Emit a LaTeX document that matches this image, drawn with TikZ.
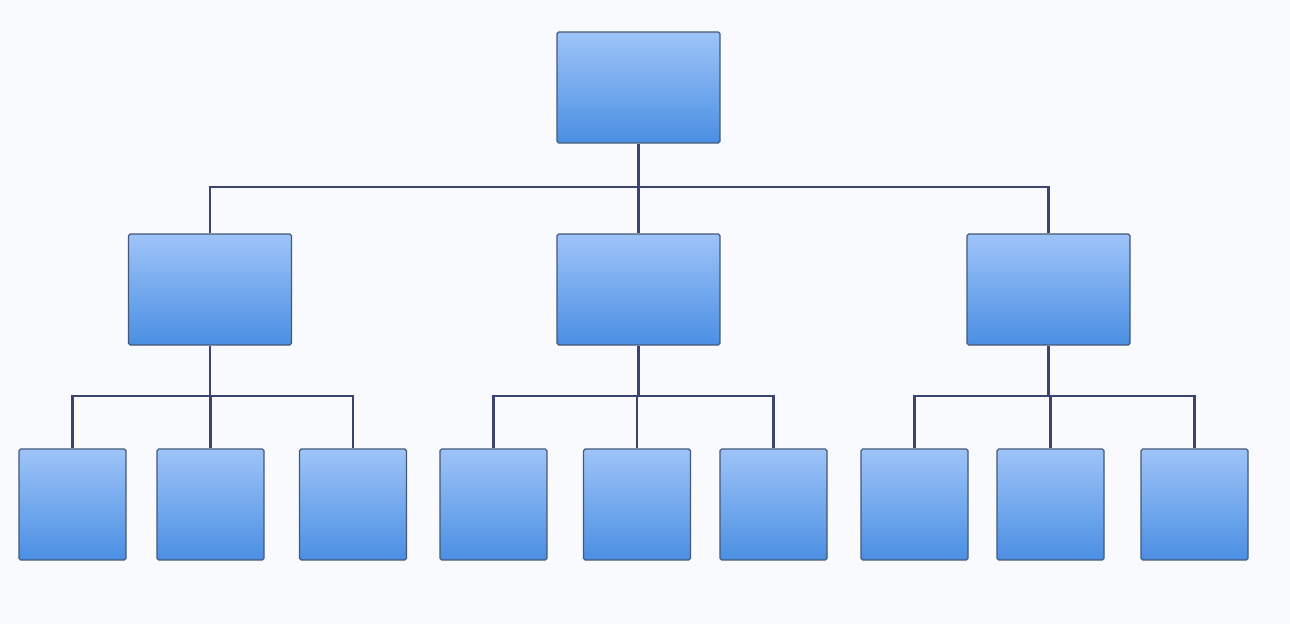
\documentclass[tikz,border=0pt]{standalone}
\usepackage{xcolor}
\usepackage{tikz}
\usetikzlibrary{positioning, calc}

\definecolor{boxtop}{HTML}{9EC4F8}
\definecolor{boxbot}{HTML}{4A8FE2}
\definecolor{boxline}{HTML}{45577A}
\definecolor{linkcol}{HTML}{3B4470}
\definecolor{paper}{HTML}{F8FAFD}

\begin{document}
\begin{tikzpicture}[
    x=0.02cm, y=-0.02cm,
    big/.style={rectangle, draw=boxline, line width=0.7pt, rounded corners=1pt,
                top color=boxtop, bottom color=boxbot,
                minimum width=3.26cm, minimum height=2.22cm, inner sep=0pt},
    leaf/.style={big, minimum width=2.14cm},
    link/.style={draw=linkcol, line width=1.5pt},
  ]
    \useasboundingbox[fill=paper] (0,0) rectangle (1290,624);
    % root and middle row
    \node[big] (root) at (638.5, 87.5) {};
    \foreach \k/\x in {1/210, 2/638.5, 3/1048.5}{
      \node[big] (m\k) at (\x, 289.5) {};}
    % bottom row
    \foreach \k/\x in {1/72.5, 2/210.5, 3/353, 4/493.5, 5/637, 6/773.5, 7/914.5, 8/1050.5, 9/1194.5}{
      \node[leaf] (b\k) at (\x, 504.5) {};}
    % bus points
    \coordinate (j0) at (638.5, 187);
    \coordinate (j1) at (210, 396);
    \coordinate (j2) at (638.5, 396);
    \coordinate (j3) at (1048.5, 396);
    \draw[link] (root) -- (j0);
    \foreach \k in {1,2,3}\draw[link] (j0) -| (m\k);
    \foreach \k in {1,2,3}\draw[link] (m\k) -- (j\k);
    \foreach \k/\a/\b/\c in {1/1/2/3, 2/4/5/6, 3/7/8/9}{
      \draw[link] (j\k) -| (b\a);
      \draw[link] (j\k) -| (b\b);
      \draw[link] (j\k) -| (b\c);}
  \end{tikzpicture}
\end{document}
